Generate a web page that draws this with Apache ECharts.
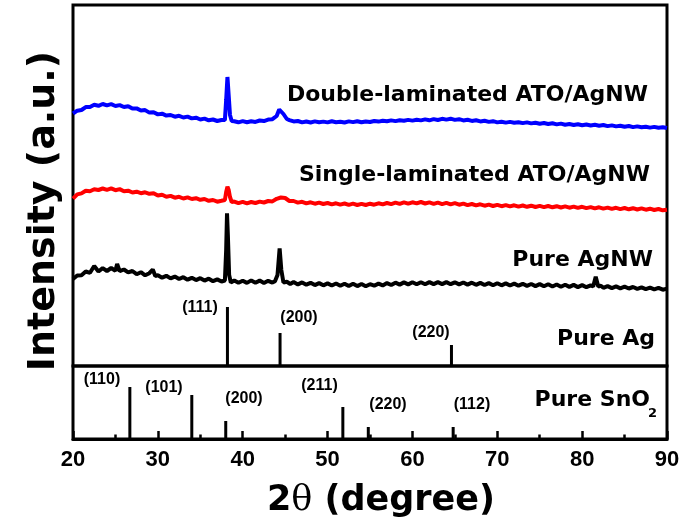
<!DOCTYPE html>
<html>
<head>
<meta charset="utf-8">
<script src="https://cdn.jsdelivr.net/npm/echarts@6/dist/echarts.min.js"></script>
<style>
html,body{margin:0;padding:0;background:#fff;}
#chart{width:697px;height:520px;}
</style>
</head>
<body>
<div id="chart"></div>
<script>
// ---- Data: [2theta (degree), intensity (a.u.)] ----
const doubleLaminated = [[20,22.5],[20.5,25.3],[21,26],[21.5,28.9],[22,29],[22.5,31.2],[23,30.2],[23.5,32],[24,30.6],[24.5,31.8],[25,30],[25.5,30.9],[26,29],[26.5,29.8],[27,27.4],[27.5,27.6],[28,25.5],[28.5,25.9],[29,23.4],[29.5,23.8],[30,21.6],[30.5,22.3],[31,20.4],[31.5,21],[32,19.3],[32.5,20.2],[33,18.5],[33.5,19.4],[34,17.6],[34.5,18.3],[35,16.5],[35.5,17.4],[36,15.7],[36.5,16.5],[37,15],[37.5,16],[37.9,16],[38.05,36],[38.2,59],[38.35,40],[38.5,21],[38.7,15],[39,14.8],[39.5,13.7],[40,14.9],[40.5,13.8],[41,14.7],[41.5,14.1],[42,15.5],[42.5,14.9],[43,16.4],[43.5,16.8],[44,20],[44.3,26.5],[44.5,27.5],[44.8,22],[45.2,17],[45.5,15.9],[46,14.6],[46.5,15],[47,13.6],[47.5,14.5],[48,13.5],[48.5,14.6],[49,13.7],[49.5,14.4],[50,13.6],[50.5,14.7],[51,13.8],[51.5,14.3],[52,13.5],[52.5,14.6],[53,13.9],[53.5,14.8],[54,13.7],[54.5,14.5],[55,14],[55.5,15],[56,14.4],[56.5,15.3],[57,14.7],[57.5,15.6],[58,14.9],[58.5,15.8],[59,15.2],[59.5,16.1],[60,15.4],[60.5,16.3],[61,15.6],[61.5,16.6],[62,15.7],[62.5,16.9],[63,16],[63.5,17.2],[64,16.4],[64.5,17.3],[65,16.1],[65.5,16.8],[66,15.6],[66.5,16.2],[67,15.1],[67.5,15.7],[68,14.6],[68.5,15.2],[69,14.1],[69.5,14.8],[70,13.6],[70.5,14.3],[71,13.4],[71.5,14.1],[72,13.2],[72.5,13.8],[73,12.9],[73.5,13.6],[74,12.6],[74.5,13.3],[75,12.3],[75.5,13],[76,12],[76.5,12.7],[77,11.6],[77.5,12.4],[78,11.3],[78.5,12],[79,11],[79.5,11.8],[80,10.8],[80.5,11.5],[81,10.5],[81.5,11.2],[82,10.3],[82.5,11],[83,9.9],[83.5,10.6],[84,9.6],[84.5,10.3],[85,9.2],[85.5,10],[86,8.9],[86.5,9.6],[87,8.7],[87.5,9.3],[88,8.4],[88.5,9.1],[89,8.2],[89.5,8.8],[90,8]];

const singleLaminated = [[20,22.3],[20.5,26.6],[21,27.6],[21.5,30.3],[22,29.8],[22.5,31.8],[23,31],[23.5,32.5],[24,31.2],[24.5,32.6],[25,30.8],[25.5,31.9],[26,29.8],[26.5,30.3],[27,28.5],[27.5,29.3],[28,27.8],[28.5,28.7],[29,27.2],[29.5,27.8],[30,25.5],[30.5,26.3],[31,24.2],[31.5,25.1],[32,23.3],[32.5,24.2],[33,22.5],[33.5,23.6],[34,22],[34.5,22.8],[35,21.2],[35.5,22],[36,20.2],[36.5,21],[37,19.3],[37.5,20.2],[37.9,21],[38.05,29],[38.2,34.3],[38.35,31],[38.5,24],[38.7,19],[39,19.4],[39.5,17.8],[40,19.1],[40.5,17.7],[41,19],[41.5,18],[42,19.4],[42.5,18.5],[43,20],[43.5,19.6],[44,22.2],[44.5,23.5],[45,23],[45.5,20],[46,20],[46.5,18.4],[47,19.2],[47.5,17.6],[48,18.7],[48.5,17.3],[49,18.4],[49.5,17],[50,18],[50.5,16.6],[51,17.7],[51.5,16.4],[52,17.5],[52.5,16.1],[53,17.3],[53.5,16],[54,17.2],[54.5,16],[55,17.3],[55.5,16.3],[56,17.7],[56.5,16.6],[57,18],[57.5,16.9],[58,18.3],[58.5,17.1],[59,18.6],[59.5,17.3],[60,18.7],[60.5,17.6],[61,19],[61.5,17.5],[62,18.6],[62.5,17.2],[63,18.4],[63.5,16.9],[64,18.1],[64.5,16.6],[65,17.8],[65.5,16.3],[66,17.4],[66.5,15.9],[67,17],[67.5,15.6],[68,16.7],[68.5,15.3],[69,16.4],[69.5,15],[70,16.2],[70.5,14.8],[71,15.9],[71.5,14.6],[72,15.7],[72.5,14.4],[73,15.5],[73.5,14.2],[74,15.3],[74.5,14],[75,15.1],[75.5,13.8],[76,15],[76.5,13.7],[77,14.8],[77.5,13.5],[78,14.6],[78.5,13.3],[79,14.4],[79.5,13.1],[80,14.2],[80.5,12.9],[81,13.9],[81.5,12.6],[82,13.7],[82.5,12.4],[83,13.4],[83.5,12.1],[84,13.2],[84.5,11.9],[85,13],[85.5,11.7],[86,12.8],[86.5,11.5],[87,12.6],[87.5,11.3],[88,12.3],[88.5,11],[89,12],[89.5,10.7],[90,11.2]];

const pureAgNW = [[20,22],[20.5,25.5],[21,25.8],[21.5,29.5],[22,28.2],[22.5,35],[23,29.5],[23.5,32.8],[24,30],[24.5,33],[25,30.2],[25.2,37],[25.5,29.8],[26,31.5],[26.5,28.6],[27,30],[27.5,26.8],[28,28.8],[28.5,25.7],[29,27.8],[29.4,31.5],[29.7,25],[30,25.8],[30.5,23.3],[31,25.2],[31.5,22.6],[32,24.4],[32.5,22],[33,23.8],[33.5,21.3],[34,23.2],[34.5,20.9],[35,22.8],[35.5,20.4],[36,22.3],[36.5,19.8],[37,21.6],[37.5,19.5],[37.9,20.5],[38.05,51],[38.15,87.7],[38.25,66],[38.4,26],[38.6,18.5],[39,20.5],[39.5,18.2],[40,20.3],[40.5,18.1],[41,20.6],[41.5,18.3],[42,20.4],[42.5,18],[43,20.2],[43.5,18.4],[43.8,19.8],[44.1,26],[44.35,52.7],[44.55,31],[44.8,18.5],[45.2,19.2],[45.6,17],[46,18.9],[46.5,16.6],[47,18.6],[47.5,16.3],[48,18.2],[48.5,15.9],[49,17.9],[49.5,15.7],[50,17.6],[50.5,15.5],[51,17.5],[51.5,15.3],[52,17.3],[52.5,15],[53,17.2],[53.5,14.9],[54,17],[54.5,14.8],[55,16.8],[55.5,15.3],[56,17.4],[56.5,15.6],[57,17.9],[57.5,16],[58,18.3],[58.5,16.4],[59,18.6],[59.5,16.6],[60,18.7],[60.5,16.7],[61,18.8],[61.5,16.8],[62,18.9],[62.5,16.9],[63,18.8],[63.5,16.9],[64,18.9],[64.5,16.8],[65,18.7],[65.5,16.6],[66,18.5],[66.5,16.4],[67,18.3],[67.5,16.2],[68,18.1],[68.5,16],[69,17.9],[69.5,15.8],[70,17.8],[70.5,15.7],[71,17.6],[71.5,15.5],[72,17.4],[72.5,15.3],[73,17.2],[73.5,15.1],[74,17],[74.5,14.9],[75,16.9],[75.5,14.7],[76,16.7],[76.5,14.5],[77,16.5],[77.5,14.3],[78,16.3],[78.5,14.1],[79,16.1],[79.5,13.9],[80,15.9],[80.5,13.8],[81,15.6],[81.3,14.5],[81.6,24.3],[81.9,14.5],[82.2,15.3],[82.5,13.2],[83,14.9],[83.5,12.9],[84,14.6],[84.5,12.7],[85,14.3],[85.5,12.5],[86,14],[86.5,12.2],[87,13.7],[87.5,11.9],[88,13.4],[88.5,11.6],[89,13.1],[89.5,11.3],[90,12.4]];

// Reference patterns (stick lines)
const agAngles    = [38.2, 44.4, 64.6];
const agIntensity = [59, 33, 21];
const agHkl       = ['(111)', '(200)', '(220)'];

const sno2Angles    = [26.7, 34.0, 38.0, 51.8, 54.8, 64.8];
const sno2Intensity = [52, 44, 18, 32, 12, 12];
const sno2Hkl       = ['(110)', '(101)', '(200)', '(211)', '(220)', '(112)'];

const sampleNames = ['Double-laminated ATO/AgNW', 'Single-laminated ATO/AgNW', 'Pure AgNW', 'Pure Ag'];
const xTickValues = [20, 30, 40, 50, 60, 70, 80, 90];

// vertical stacking offsets (a.u.)
const offsets = { double: 230, single: 145, agnw: 65 };

const SANS = '"DejaVu Sans", sans-serif';
const ARIAL = '"Liberation Sans", Arial, sans-serif';

const chart = echarts.init(document.getElementById('chart'), null, { renderer: 'canvas' });

const shift = (arr, off) => arr.map(p => [p[0], p[1] + off]);

function txt(text, x, y, opts) {
  return {
    type: 'text', silent: true,
    style: Object.assign({
      text: text, x: x, y: y, fill: '#000',
      fontFamily: SANS, fontWeight: 'bold', fontSize: 22,
      textAlign: 'right', textVerticalAlign: 'middle'
    }, opts || {})
  };
}

const hklFont = { fontFamily: ARIAL, fontWeight: 'bold', fontSize: 16, textAlign: 'center' };
const agLabelPos = [[200, 308], [299, 318], [431, 333]];
const snLabelPos = [[102, 380], [164, 387.5], [244, 399], [319.5, 386], [388, 404.5], [472, 404.5]];

const graphics = [];
graphics.push(txt(sampleNames[0], 648, 95));
graphics.push(txt(sampleNames[1], 650, 175));
graphics.push(txt(sampleNames[2], 653, 260));
graphics.push(txt(sampleNames[3], 655, 339));
graphics.push(txt('Pure SnO', 650, 400));
graphics.push(txt('2', 657, 414, { fontSize: 13 }));
agHkl.forEach((t, i) => graphics.push(txt(t, agLabelPos[i][0], agLabelPos[i][1], hklFont)));
sno2Hkl.forEach((t, i) => graphics.push(txt(t, snLabelPos[i][0], snLabelPos[i][1], hklFont)));
// axis titles
graphics.push({
  type: 'text', silent: true, rotation: Math.PI / 2, x: 44, y: 211,
  style: { text: 'Intensity (a.u.)', fill: '#000', fontFamily: SANS, fontWeight: 'bold', fontSize: 38, textAlign: 'center', textVerticalAlign: 'middle' }
});
graphics.push({
  type: 'text', silent: true, x: 381, y: 501,
  style: {
    text: '{a|2}{b|θ}{a| (degree)}', fill: '#000', textAlign: 'center', textVerticalAlign: 'middle',
    rich: {
      a: { fontFamily: SANS, fontWeight: 'bold', fontSize: 35, fill: '#000' },
      b: { fontFamily: '"DejaVu Serif", serif', fontWeight: 'normal', fontSize: 35, fill: '#000' }
    }
  }
});

const option = {
  animation: false,
  backgroundColor: '#fff',
  grid: [
    { left: 73, right: 30, top: 5, height: 361, show: true, borderColor: '#000', borderWidth: 3, backgroundColor: 'transparent' },
    { left: 73, right: 30, top: 366, height: 73, show: true, borderColor: '#000', borderWidth: 3, backgroundColor: 'transparent' }
  ],
  xAxis: [
    { type: 'value', gridIndex: 0, min: 20, max: 90, interval: 10,
      axisLine: { show: false }, axisTick: { show: false }, axisLabel: { show: false }, splitLine: { show: false } },
    { type: 'value', gridIndex: 1, min: 20, max: 90, interval: 10,
      axisLine: { show: true, onZero: false, lineStyle: { color: '#000', width: 3 } },
      axisTick: { show: true, inside: true, length: 8, lineStyle: { color: '#000', width: 2.5 } },
      minorTick: { show: true, splitNumber: 2, length: 4.5, lineStyle: { color: '#000', width: 2.5 } },
      axisLabel: { show: true, margin: 10, color: '#000', fontFamily: ARIAL, fontWeight: 'bold', fontSize: 22,
        formatter: v => (xTickValues.indexOf(v) >= 0 ? String(v) : '') },
      splitLine: { show: false } }
  ],
  yAxis: [
    { type: 'value', gridIndex: 0, min: 0, max: 361, show: false, splitLine: { show: false } },
    { type: 'value', gridIndex: 1, min: 0, max: 73, show: false, splitLine: { show: false } }
  ],
  series: [
    { name: sampleNames[0], type: 'line', xAxisIndex: 0, yAxisIndex: 0, data: shift(doubleLaminated, offsets.double),
      showSymbol: false, symbol: 'none', lineStyle: { color: '#0000ff', width: 4 }, silent: true },
    { name: sampleNames[1], type: 'line', xAxisIndex: 0, yAxisIndex: 0, data: shift(singleLaminated, offsets.single),
      showSymbol: false, symbol: 'none', lineStyle: { color: '#ff0000', width: 4 }, silent: true },
    { name: sampleNames[2], type: 'line', xAxisIndex: 0, yAxisIndex: 0, data: shift(pureAgNW, offsets.agnw),
      showSymbol: false, symbol: 'none', lineStyle: { color: '#000000', width: 4 }, silent: true },
    { name: 'Pure Ag', type: 'bar', xAxisIndex: 0, yAxisIndex: 0, barWidth: 3,
      data: agAngles.map((a, i) => [a, agIntensity[i]]), itemStyle: { color: '#000' }, silent: true },
    { name: 'Pure SnO2', type: 'bar', xAxisIndex: 1, yAxisIndex: 1, barWidth: 3,
      data: sno2Angles.map((a, i) => [a, sno2Intensity[i]]), itemStyle: { color: '#000' }, silent: true }
  ],
  graphic: graphics
};
chart.setOption(option);
</script>
</body>
</html>
